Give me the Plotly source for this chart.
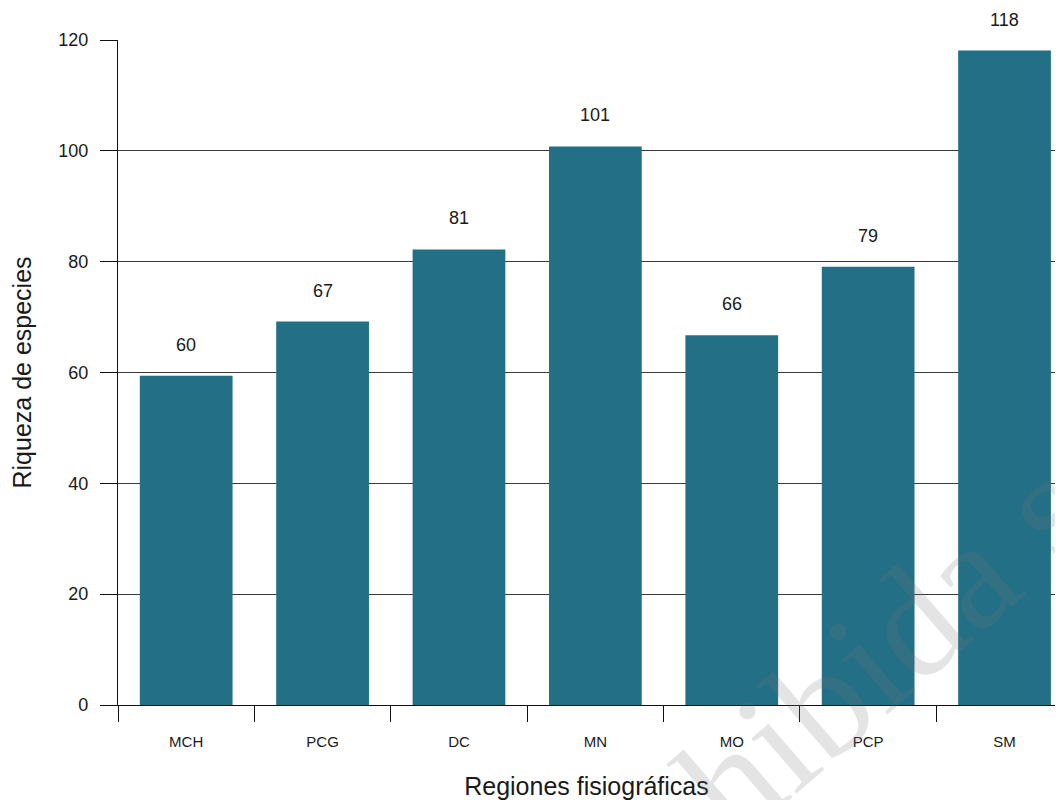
import plotly.graph_objects as go

# Data
regions = ["MCH", "PCG", "DC", "MN", "MO", "PCP", "SM"]
bar_heights = [59.4, 69.2, 82.2, 100.8, 66.7, 79.1, 118.1]   # bar tops as drawn
value_labels = ["60", "67", "81", "101", "66", "79", "118"]   # printed labels
y_ticks = [0, 20, 40, 60, 80, 100, 120]

BAR_COLOR = "#236F86"
FONT = "Liberation Sans, Arial, Helvetica, sans-serif"

fig = go.Figure()
fig.add_trace(go.Bar(
    x=regions,
    y=bar_heights,
    width=0.68,
    marker=dict(color=BAR_COLOR, line=dict(width=0)),
    hoverinfo="x+y",
    showlegend=False,
))

for r, h, t in zip(regions, bar_heights, value_labels):
    fig.add_annotation(
        x=r, y=h, text=t, showarrow=False,
        xanchor="center", yanchor="middle", yshift=31,
        font=dict(family=FONT, size=18, color="#1a1a1a"),
    )

# faint watermark
fig.add_annotation(
    xref="paper", yref="paper", x=1.108, y=0.441,
    text="Prohibida su reproducción", showarrow=False,
    textangle=-41, xanchor="center", yanchor="middle",
    font=dict(family="Liberation Serif, Times New Roman, serif", size=155,
              color="rgba(120,120,120,0.2)"),
)

# page body adds an 8px margin, so the figure is sized to fit the window
fig.update_layout(
    width=1047, height=792,
    margin=dict(l=110, r=0, t=32, b=95, autoexpand=False),
    paper_bgcolor="white", plot_bgcolor="white",
    font=dict(family=FONT, color="#1a1a1a"),
    bargap=0.32,
)

fig.update_xaxes(
    type="category",
    range=[-0.5, 6.37],
    tickson="boundaries",
    automargin=False,
    ticks="outside", ticklen=16, tickwidth=1.2, tickcolor="#111",
    showline=True, linecolor="#111", linewidth=1.2,
    showgrid=False, zeroline=False,
    tickfont=dict(family=FONT, size=15, color="#1a1a1a"),
    ticklabelstandoff=23,
    title=dict(text="Regiones fisiográficas", font=dict(family=FONT, size=25, color="#1a1a1a"),
               standoff=56),
)

fig.update_yaxes(
    range=[0, 120],
    tickvals=y_ticks,
    ticktext=[str(v) for v in y_ticks],
    automargin=False,
    ticks="outside", ticklen=17, tickwidth=1.2, tickcolor="#111",
    showline=True, linecolor="#111", linewidth=1.2,
    showgrid=True, gridcolor="#3a3a3a", gridwidth=1,
    zeroline=True, zerolinecolor="#111", zerolinewidth=1.2,
    tickfont=dict(family=FONT, size=18, color="#1a1a1a"),
    ticklabelstandoff=8,
    title=dict(text="Riqueza de especies", font=dict(family=FONT, size=25, color="#1a1a1a"),
               standoff=20),
)

fig.write_html("out.html")
